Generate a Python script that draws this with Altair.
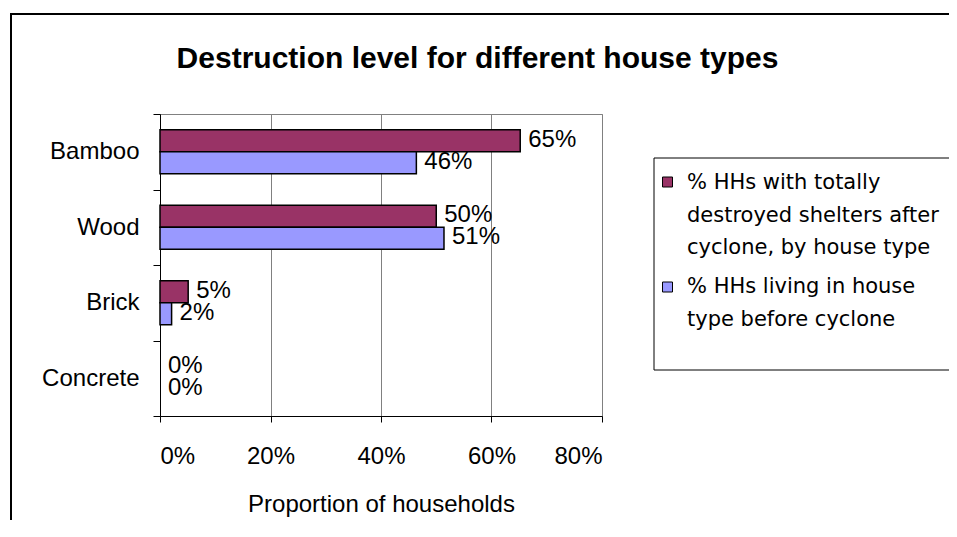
import altair as alt
import pandas as pd

# ---- data ----
CATEGORIES = ["Bamboo", "Wood", "Brick", "Concrete"]
SERIES = [
    "% HHs with totally destroyed shelters after cyclone, by house type",
    "% HHs living in house type before cyclone",
]
DESTROYED = [0.652, 0.50, 0.051, 0.0]
LIVING = [0.464, 0.514, 0.021, 0.0]
LEGEND_LINES = [
    ["% HHs with totally", "destroyed shelters after", "cyclone, by house type"],
    ["% HHs living in house", "type before cyclone"],
]
COLORS = ["#993366", "#9999FF"]
X_TICKS = [0, 0.2, 0.4, 0.6, 0.8]
TITLE = "Destruction level for different house types"
X_TITLE = "Proportion of households"

rows = []
for c, a, b in zip(CATEGORIES, DESTROYED, LIVING):
    rows.append({"category": c, "series": SERIES[0], "value": a})
    rows.append({"category": c, "series": SERIES[1], "value": b})
df = pd.DataFrame(rows)

FONT = "Liberation Sans"
W, H = 442, 302

x_enc = alt.X(
    "value:Q",
    scale=alt.Scale(domain=[0, 0.8], nice=False, zero=True),
    axis=alt.Axis(
        values=X_TICKS, format=".0%", title=X_TITLE,
        grid=True, gridColor="#808080", gridWidth=1,
        domainColor="#000000", domainWidth=1,
        tickColor="#000000", tickSize=6,
        labelFont=FONT, labelFontSize=24, labelColor="#000000", labelPadding=22,
        titleFont=FONT, titleFontSize=24, titleFontWeight="normal",
        titleColor="#000000", titlePadding=24,
    ),
)
y_enc = alt.Y(
    "category:N", sort=CATEGORIES,
    scale=alt.Scale(paddingInner=0, paddingOuter=0),
    axis=alt.Axis(
        title=None, grid=False, tickBand="extent",
        domainColor="#000000", tickColor="#000000", tickSize=7,
        labelFont=FONT, labelFontSize=24, labelColor="#000000", labelPadding=14,
    ),
)
yoff = alt.YOffset("series:N", sort=SERIES,
                   scale=alt.Scale(paddingInner=0, paddingOuter=0.716))
color = alt.Color("series:N", sort=SERIES,
                  scale=alt.Scale(domain=SERIES, range=COLORS), legend=None)

base = alt.Chart(df)
bars = base.mark_bar(stroke="#000000", strokeWidth=1.5).encode(
    x=x_enc, y=y_enc, yOffset=yoff, color=color
).transform_filter("datum.value > 0")
labels = base.mark_text(align="left", baseline="middle", dx=8, dy=-1,
                        font=FONT, fontSize=24, color="#000000").encode(
    x="value:Q", y=alt.Y("category:N", sort=CATEGORIES), yOffset=yoff,
    text=alt.Text("value:Q", format=".0%"))

one = pd.DataFrame({"k": [0]})

# chart frame (outer border, extends beyond the picture)
frame_v = alt.Chart(one).mark_rule(color="#000000", strokeWidth=2).encode(
    x=alt.value(-149), y=alt.value(-101), y2=alt.value(600))
frame_h = alt.Chart(one).mark_rule(color="#000000", strokeWidth=2).encode(
    y=alt.value(-100), x=alt.value(-150), x2=alt.value(1000))

# title
title = alt.Chart(pd.DataFrame({"t": [TITLE]})).mark_text(
    align="center", baseline="alphabetic", font=FONT, fontSize=30,
    fontWeight="bold", color="#000000").encode(
    x=alt.value(317.5), y=alt.value(-46), text="t:N")

# legend (manual, Excel style)
leg_box = alt.Chart(one).mark_rect(fill="#FFFFFF", stroke="#000000",
                                   strokeWidth=1).encode(
    x=alt.value(494), x2=alt.value(1000), y=alt.value(44), y2=alt.value(256))
leg_layers = [leg_box]
sym_y = [68, 173]
txt_y = [75, 179]
for i in range(2):
    d = pd.DataFrame({"series": [SERIES[i]], "label": ["\n".join(LEGEND_LINES[i])]})
    leg_layers.append(alt.Chart(d).mark_rect(stroke="#000000", strokeWidth=1).encode(
        x=alt.value(502.5), x2=alt.value(512.5),
        y=alt.value(sym_y[i] - 5), y2=alt.value(sym_y[i] + 5),
        color=color))
    leg_layers.append(alt.Chart(d).mark_text(
        align="left", baseline="alphabetic", lineBreak="\n", lineHeight=32.5,
        font="DejaVu Sans", fontSize=21, color="#000000").encode(
        x=alt.value(527), y=alt.value(txt_y[i]), text="label:N"))

chart = alt.layer(
    frame_v, frame_h, bars, labels, title, *leg_layers
).properties(
    width=W, height=H,
    autosize=alt.AutoSizeParams(type="none"),
    padding={"left": 152, "top": 106, "right": 347, "bottom": 104},
    background="#FFFFFF",
).configure_view(stroke="#808080", strokeWidth=1)

chart.save("out.html", embed_options={"renderer": "svg", "actions": False})
